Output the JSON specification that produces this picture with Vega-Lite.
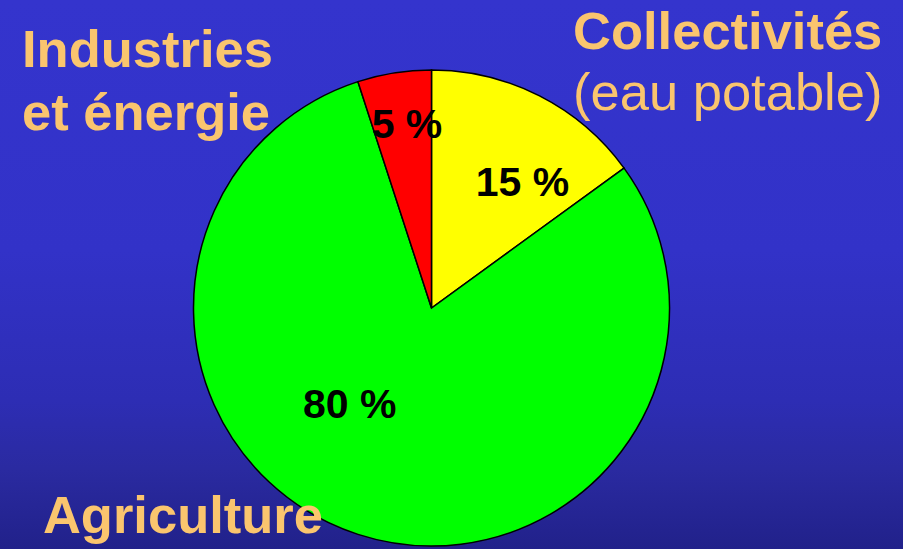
{
  "$schema": "https://vega.github.io/schema/vega-lite/v6.json",
  "width": 943,
  "height": 616,
  "autosize": "none",
  "padding": {"left": -40, "top": 0, "right": 0, "bottom": -67},
  "background": "#3333CC",
  "config": {
    "view": {"stroke": null},
    "text": {"font": "Liberation Sans"}
  },
  "data": {
    "values": [
      {"categorie": "Collectivités", "precision": "(eau potable)", "part": 15, "etiquette": "15 %"},
      {"categorie": "Agriculture", "precision": "", "part": 80, "etiquette": "80 %"},
      {"categorie": "Industries\net énergie", "precision": "", "part": 5, "etiquette": "5 %"}
    ]
  },
  "layer": [
    {
      "data": {"values": [{"fond": "dégradé"}]},
      "mark": {
        "type": "rect",
        "fill": {
          "gradient": "linear",
          "x1": 0, "y1": 0, "x2": 0, "y2": 1,
          "stops": [
            {"offset": 0, "color": "#3434CD"},
            {"offset": 0.406, "color": "#3232C8"},
            {"offset": 0.649, "color": "#2D2DB4"},
            {"offset": 0.763, "color": "#2A2AA0"},
            {"offset": 0.891, "color": "#21218A"},
            {"offset": 1, "color": "#1E1E80"}
          ]
        }
      },
      "encoding": {}
    },
    {
      "encoding": {
        "theta": {"field": "part", "type": "quantitative", "stack": true, "scale": {"range": [-0.3141593, 5.969026]}},
        "order": {"field": "categorie", "sort": "descending"}
      },
      "layer": [
        {
          "mark": {"type": "arc", "outerRadius": 238, "stroke": "black", "strokeWidth": 1.5},
          "encoding": {
            "color": {
              "field": "categorie", "type": "nominal", "legend": null,
              "scale": {"domain": ["Collectivités", "Agriculture", "Industries\net énergie"], "range": ["#FFFF00", "#00FF00", "#FF0000"]}
            }
          }
        },
        {
          "mark": {"type": "text", "radius": 186, "dx": 4.6, "dy": 13.7, "fontSize": 41, "fontWeight": "bold", "fill": "black", "align": "center", "baseline": "alphabetic"},
          "encoding": {"text": {"condition": {"test": "datum.part === 5", "field": "etiquette"}, "value": ""}}
        },
        {
          "mark": {"type": "text", "radius": 157, "dx": 19.7, "dy": 27.9, "fontSize": 41, "fontWeight": "bold", "fill": "black", "align": "center", "baseline": "alphabetic"},
          "encoding": {"text": {"condition": {"test": "datum.part === 15", "field": "etiquette"}, "value": ""}}
        },
        {
          "mark": {"type": "text", "radius": 128, "dx": -42.2, "dy": -11.7, "fontSize": 41, "fontWeight": "bold", "fill": "black", "align": "center", "baseline": "alphabetic"},
          "encoding": {"text": {"condition": {"test": "datum.part === 80", "field": "etiquette"}, "value": ""}}
        },
        {
          "mark": {"type": "text", "radius": 260, "dx": -368.8, "dy": 15.8, "fontSize": 52.5, "fontWeight": "bold", "fill": "#FAC56E", "align": "left", "baseline": "alphabetic", "lineBreak": "\n", "lineHeight": 63},
          "encoding": {"text": {"condition": {"test": "datum.part === 5", "field": "categorie"}, "value": ""}}
        },
        {
          "mark": {"type": "text", "radius": 260, "dx": 23.5, "dy": -27.3, "fontSize": 52.5, "fontWeight": "bold", "fill": "#FAC56E", "align": "left", "baseline": "alphabetic"},
          "encoding": {"text": {"condition": {"test": "datum.part === 15", "field": "categorie"}, "value": ""}}
        },
        {
          "mark": {"type": "text", "radius": 260, "dx": 23.5, "dy": 33.7, "fontSize": 52.5, "fontWeight": "normal", "fill": "#FAC56E", "align": "left", "baseline": "alphabetic"},
          "encoding": {"text": {"condition": {"test": "datum.part === 15", "field": "precision"}, "value": ""}}
        },
        {
          "mark": {"type": "text", "radius": 260, "dx": -308.2, "dy": -22.3, "fontSize": 52.5, "fontWeight": "bold", "fill": "#FAC56E", "align": "left", "baseline": "alphabetic"},
          "encoding": {"text": {"condition": {"test": "datum.part === 80", "field": "categorie"}, "value": ""}}
        }
      ]
    }
  ]
}
